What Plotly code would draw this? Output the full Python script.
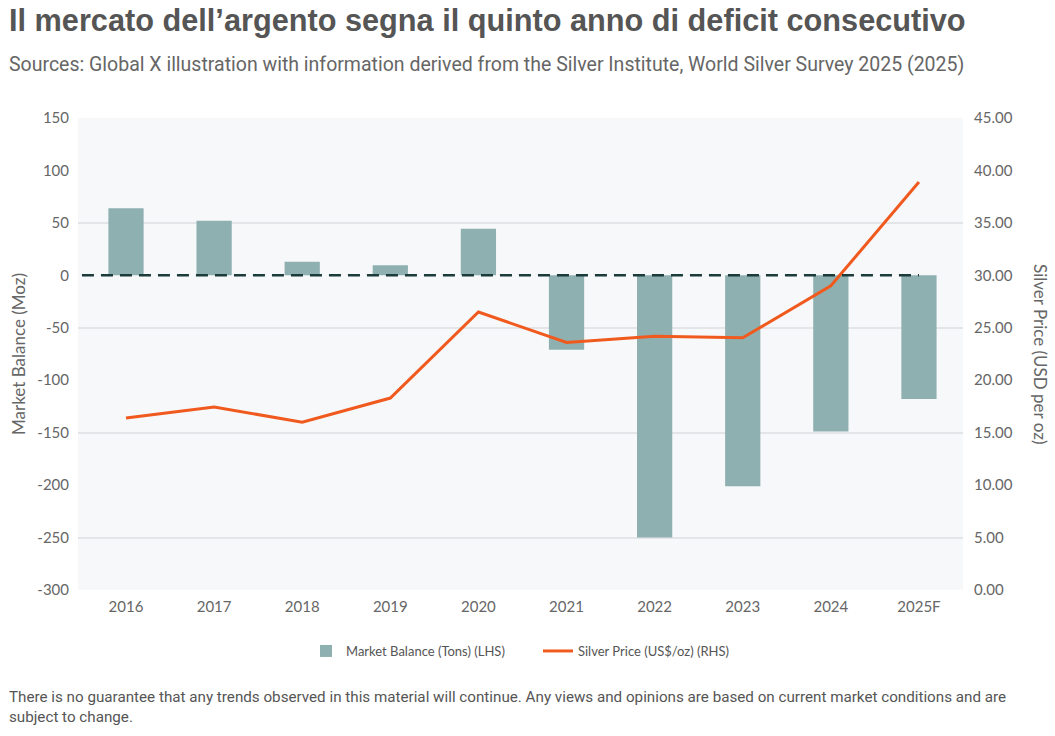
import plotly.graph_objects as go

years = ["2016", "2017", "2018", "2019", "2020", "2021", "2022", "2023", "2024", "2025F"]
market_balance = [64, 52, 13, 9.5, 44.5, -71, -250, -201, -149, -118]
silver_price = [16.4, 17.45, 16.0, 18.3, 26.5, 23.6, 24.2, 24.05, 29.0, 38.9]
left_ticks = [150, 100, 50, 0, -50, -100, -150, -200, -250, -300]
left_grid = [150, 50, -50, -150, -250]
right_ticks = [0, 5, 10, 15, 20, 25, 30, 35, 40, 45]

title = "Il mercato dell\u2019argento segna il quinto anno di deficit consecutivo"
subtitle = "Sources: Global X illustration with information derived from the Silver Institute, World Silver Survey 2025 (2025)"
footer = ("There is no guarantee that any trends observed in this material will continue. Any views and opinions are based on current market conditions and are"
          "<br>subject to change.")

BAR = "#8fb0b0"
LINE = "#f05a1e"
TXT = "#666666"
FONT = "Lato, Open Sans, sans-serif"
NARROW = "Roboto, sans-serif"

PL, PR, PT, PB = 78, 963, 118, 590
PW, PH = PR - PL, PB - PT


def px_x(x):
    return (x - PL) / PW


def px_y(y):
    return (PB - y) / PH


fig = go.Figure()
# invisible helper so the grid axis is drawn
fig.add_trace(go.Scatter(x=[years[0]], y=[0], yaxis="y3", mode="markers",
                         marker=dict(opacity=0), showlegend=False, hoverinfo="skip"))
fig.add_trace(go.Bar(x=years, y=market_balance, name="Market Balance (Tons) (LHS)",
                     marker=dict(color=BAR, line=dict(width=0)), width=0.4, yaxis="y"))
fig.add_trace(go.Scatter(x=years, y=silver_price, name="Silver Price (US$/oz) (RHS)",
                         mode="lines", line=dict(color=LINE, width=3), yaxis="y2"))

fig.add_shape(type="line", xref="x", yref="y", x0=-0.5, x1=len(years) - 1, y0=0, y1=0,
              line=dict(color="#1c3b3b", width=2.5, dash="12px,7px"), layer="above")

fig.update_layout(
    width=1055, height=736,
    margin=dict(l=PL, r=1055 - PR, t=PT, b=736 - PB, autoexpand=False),
    paper_bgcolor="white", plot_bgcolor="#f7f8fa",
    font=dict(family=FONT, color=TXT),
    showlegend=True,
    legend=dict(orientation="h", x=px_x(306), xanchor="left",
                y=px_y(651), yanchor="middle", font=dict(size=13, color="#555555"),
                entrywidth=187, entrywidthmode="pixels", tracegroupgap=0),
    xaxis=dict(type="category", showgrid=False, zeroline=False, showline=False, ticks="",
               tickfont=dict(size=15, color=TXT), ticklabelstandoff=6, tickangle=0),
    yaxis=dict(range=[-300, 150], tickmode="array", tickvals=left_ticks,
               ticktext=[str(v) for v in left_ticks],
               showgrid=False, zeroline=False, showline=False,
               tickfont=dict(size=15, color=TXT), ticklabelstandoff=8),
    yaxis3=dict(range=[-300, 150], overlaying="y", tickmode="array", tickvals=left_grid,
                showticklabels=False, showgrid=True, gridcolor="#e3e5e8", gridwidth=1.5,
                zeroline=False, showline=False),
    yaxis2=dict(range=[0, 45], overlaying="y", side="right", tickmode="array",
                tickvals=right_ticks, ticktext=["%.2f" % v for v in right_ticks],
                showgrid=False, zeroline=False,
                showline=False, tickfont=dict(size=15, color=TXT), ticklabelstandoff=10),
)

fig.add_annotation(text="<b>" + title + "</b>", xref="paper", yref="paper",
                   x=px_x(7), y=px_y(20), xanchor="left", yanchor="middle",
                   showarrow=False, font=dict(family="Liberation Sans, Arial, sans-serif", size=30.7, color="#555555"))
fig.add_annotation(text=subtitle, xref="paper", yref="paper",
                   x=px_x(7), y=px_y(64), xanchor="left", yanchor="middle",
                   showarrow=False, font=dict(family=NARROW, size=19.5, color="#666666"))
fig.add_annotation(text="Market Balance (Moz)", xref="paper", yref="paper",
                   x=px_x(18), y=px_y(354), xanchor="center", yanchor="middle",
                   textangle=-90, showarrow=False, font=dict(family=FONT, size=17, color=TXT))
fig.add_annotation(text="Silver Price (USD per oz)", xref="paper", yref="paper",
                   x=px_x(1041), y=px_y(354), xanchor="center", yanchor="middle",
                   textangle=90, showarrow=False, font=dict(family=FONT, size=17, color=TXT))
fig.add_annotation(text=footer, xref="paper", yref="paper", align="left",
                   x=px_x(7), y=px_y(707), xanchor="left", yanchor="middle",
                   showarrow=False, font=dict(family=NARROW, size=15.2, color="#555555"))

fig.write_html("out.html")
